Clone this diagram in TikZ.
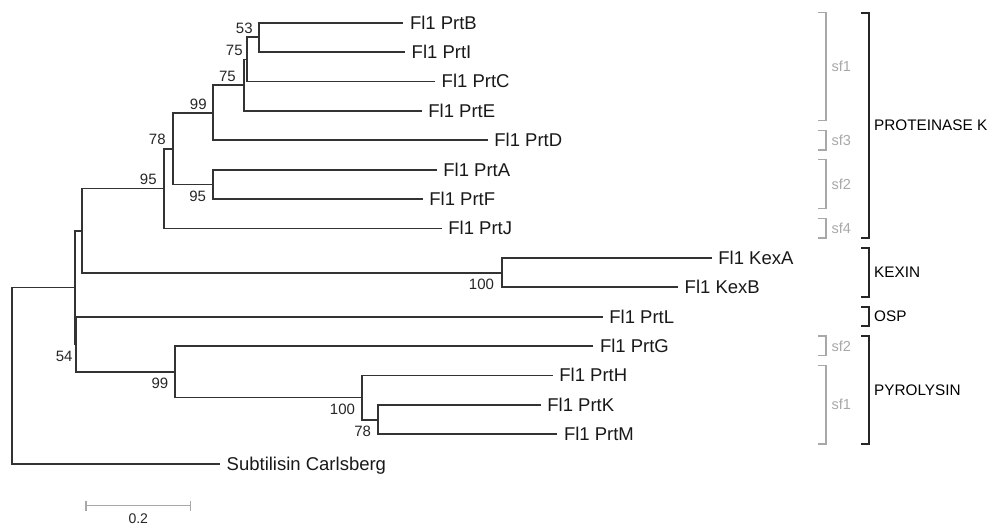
\documentclass[tikz,border=0pt]{standalone}
\usepackage{fontspec}
\setmainfont{Liberation Sans}
\usetikzlibrary{calc}
\definecolor{treegray}{HTML}{333333}
\definecolor{subgray}{HTML}{A8A8A8}
\tikzset{
  branch/.style={line width=1.8pt, draw=treegray},
  leaf/.style={anchor=base west, inner sep=0pt, xshift=6.5pt, yshift=-6.4pt,
    font=\fontsize{18.5}{18.5}\selectfont, text=black!90},
  bootup/.style={anchor=south east, inner sep=0pt, xshift=-6.5pt, yshift=3.8pt,
    font=\fontsize{15}{15}\selectfont, text=black!85},
  bootdn/.style={anchor=north east, inner sep=0pt, xshift=-6.5pt, yshift=-6.5pt,
    font=\fontsize{15}{15}\selectfont, text=black!85},
  famline/.style={line width=1.8pt, draw=black!85},
  subline/.style={line width=1.5pt, draw=subgray},
  famlabel/.style={anchor=west, inner sep=0pt, font=\fontsize{15.3}{15.3}\selectfont},
  sublabel/.style={anchor=west, inner sep=0pt, font=\fontsize{14.5}{14.5}\selectfont, text=subgray},
}

\begin{document}
\begin{tikzpicture}[x=1pt, y=-1pt]
  \useasboundingbox (0,0) rectangle (993,527);

  % leaf ends
  \coordinate (B) at (403.3,22.7);
  \coordinate (I) at (405,52.1);
  \coordinate (C) at (435,81.5);
  \coordinate (E) at (421.7,110.9);
  \coordinate (D) at (487.7,140.3);
  \coordinate (A) at (436.7,169.7);
  \coordinate (F) at (422.7,199.1);
  \coordinate (J) at (441.7,228.5);
  \coordinate (KA) at (711.7,257.9);
  \coordinate (KB) at (678,287.3);
  \coordinate (L) at (602.7,316.7);
  \coordinate (G) at (593.3,346.1);
  \coordinate (H) at (552.7,375.5);
  \coordinate (K) at (540.7,404.9);
  \coordinate (M) at (557.3,434.3);
  \coordinate (S) at (220,463.7);

  % inner nodes
  \coordinate (n53) at (259.3,37.4);
  \coordinate (n75a) at (247.3,59.5);
  \coordinate (n75b) at (244,85.2);
  \coordinate (n99a) at (213.3,112.7);
  \coordinate (nAF) at (212.7,184.4);
  \coordinate (n78a) at (173.3,148.6);
  \coordinate (n95) at (164.3,188.5);
  \coordinate (nKex) at (501.7,272.6);
  \coordinate (nPK) at (82,230.6);
  \coordinate (n78b) at (377.7,419.6);
  \coordinate (n100) at (361.7,397.5);
  \coordinate (n99b) at (175,371.8);
  \coordinate (n54) at (75.7,344.3);
  \coordinate (nIn) at (74.7,287.4);
  \coordinate (root) at (12.3,375.6);

  % branches
  \draw[branch] (n53) |- (B) (n53) |- (I);
  \draw[branch] (n75a) |- (n53) (n75a) |- (C);
  \draw[branch] (n75b) |- (n75a) (n75b) |- (E);
  \draw[branch] (n99a) |- (n75b) (n99a) |- (D);
  \draw[branch] (nAF) |- (A) (nAF) |- (F);
  \draw[branch] (n78a) |- (n99a) (n78a) |- (nAF);
  \draw[branch] (n95) |- (n78a) (n95) |- (J);
  \draw[branch] (nKex) |- (KA) (nKex) |- (KB);
  \draw[branch] (nPK) |- (n95) (nPK) |- (nKex);
  \draw[branch] (n78b) |- (K) (n78b) |- (M);
  \draw[branch] (n100) |- (H) (n100) |- (n78b);
  \draw[branch] (n99b) |- (G) (n99b) |- (n100);
  \draw[branch] (n54) |- (L) (n54) |- (n99b);
  \draw[branch] (nIn) |- (nPK) (nIn) |- (n54);
  \draw[branch] (root) |- (nIn) (root) |- (S);

  % taxa
  \node[leaf] (tB) at (B) {Fl1 PrtB};
  \node[leaf] (tI) at (I) {Fl1 PrtI};
  \node[leaf] (tC) at (C) {Fl1 PrtC};
  \node[leaf] (tE) at (E) {Fl1 PrtE};
  \node[leaf] (tD) at (D) {Fl1 PrtD};
  \node[leaf] (tA) at (A) {Fl1 PrtA};
  \node[leaf] (tF) at (F) {Fl1 PrtF};
  \node[leaf] (tJ) at (J) {Fl1 PrtJ};
  \node[leaf] (tKA) at (KA) {Fl1 KexA};
  \node[leaf] (tKB) at (KB) {Fl1 KexB};
  \node[leaf] (tL) at (L) {Fl1 PrtL};
  \node[leaf] (tG) at (G) {Fl1 PrtG};
  \node[leaf] (tH) at (H) {Fl1 PrtH};
  \node[leaf] (tK) at (K) {Fl1 PrtK};
  \node[leaf] (tM) at (M) {Fl1 PrtM};
  \node[leaf] (tS) at (S) {Subtilisin Carlsberg};

  % bootstrap values
  \node[bootup] (b53) at (n53) {53};
  \node[bootup, xshift=2pt] (b75a) at (n75a) {75};
  \node[bootup, xshift=-1.5pt] (b75b) at (n75b) {75};
  \node[bootup, yshift=-1pt] (b99a) at (n99a) {99};
  \node[bootup, xshift=-1pt] (b78a) at (n78a) {78};
  \node[bootup, xshift=-1pt] (b95) at (n95) {95};
  \node[bootdn] (bAF) at (nAF) {95};
  \node[bootdn, xshift=-1pt] (bKex) at (nKex) {100};
  \node[bootdn, xshift=3.5pt] (b54) at (n54) {54};
  \node[bootdn] (b99b) at (n99b) {99};
  \node[bootdn] (b100) at (n100) {100};
  \node[bootdn] (b78b) at (n78b) {78};

  % subfamily brackets
  \draw[subline] (818.3,12.7) -| (826,120.4) -- (818.3,120.4);
  \node[sublabel] (sf1a) at (831.5,66.5) {sf1};
  \draw[subline] (818.3,130.3) -| (826,149.8) -- (818.3,149.8);
  \node[sublabel] (sf3) at (831.5,140) {sf3};
  \draw[subline] (818.3,159.7) -| (826,208.6) -- (818.3,208.6);
  \node[sublabel] (sf2a) at (831.5,184) {sf2};
  \draw[subline] (818.3,218.5) -| (826,238) -- (818.3,238);
  \node[sublabel] (sf4) at (831.5,228.3) {sf4};
  \draw[subline] (818.3,336.1) -| (826,355.6) -- (818.3,355.6);
  \node[sublabel] (sf2b) at (831.5,346) {sf2};
  \draw[subline] (818.3,365.5) -| (826,443.8) -- (818.3,443.8);
  \node[sublabel] (sf1b) at (831.5,404.5) {sf1};

  % family brackets
  \draw[famline] (861,12.7) -| (869,238) -- (861,238);
  \node[famlabel] (fPK) at (874,125.3) {PROTEINASE K};
  \draw[famline] (861,247.9) -| (869,296.8) -- (861,296.8);
  \node[famlabel] (fKex) at (874,272.4) {KEXIN};
  \draw[famline] (861,306.7) -| (869,326.2) -- (861,326.2);
  \node[famlabel] (fOSP) at (874,316.5) {OSP};
  \draw[famline] (861,336.1) -| (869,443.8) -- (861,443.8);
  \node[famlabel] (fPyr) at (874,390) {PYROLYSIN};

  % scale bar
  \coordinate (sbL) at (86,505.7);
  \coordinate (sbR) at (190.7,505.7);
  \draw[subline, line width=1.3pt] (sbL) -- (sbR);
  \draw[subline, line width=1.3pt] ($(sbL)+(0,-5)$) -- ($(sbL)+(0,5)$);
  \draw[subline, line width=1.3pt] ($(sbR)+(0,-5)$) -- ($(sbR)+(0,5)$);
  \node[font=\fontsize{14}{14}\selectfont, inner sep=0pt, text=black!85] (sbT) at (138.3,518.5) {0.2};
\end{tikzpicture}
\end{document}
